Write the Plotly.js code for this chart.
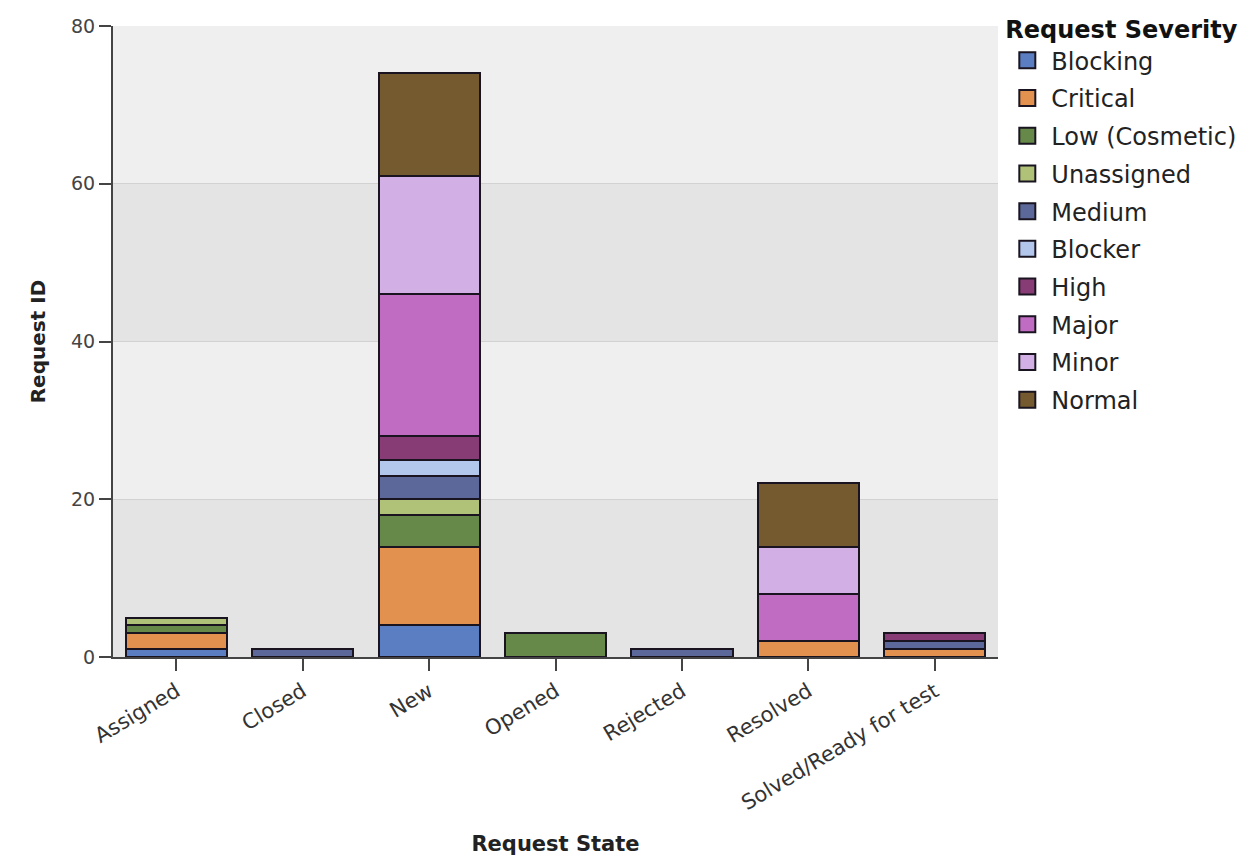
<!DOCTYPE html>
<html>
<head>
<meta charset="utf-8">
<script src="https://cdn.plot.ly/plotly-3.0.1.min.js"></script>
<style>html,body{margin:0;padding:0;background:#fff;}#chart{width:1250px;height:862px;}</style>
</head>
<body>
<div id="chart"></div>
<script>
const states = ["Assigned", "Closed", "New", "Opened", "Rejected", "Resolved", "Solved/Ready for test"];
const severities = ["Blocking", "Critical", "Low (Cosmetic)", "Unassigned", "Medium", "Blocker", "High", "Major", "Minor", "Normal"];
const blocking    = [1, 0, 4, 0, 0, 0, 0];
const critical    = [2, 0, 10, 0, 0, 2, 1];
const lowCosmetic = [1, 0, 4, 3, 0, 0, 0];
const unassigned  = [1, 0, 2, 0, 0, 0, 0];
const medium      = [0, 1, 3, 0, 1, 0, 1];
const blocker     = [0, 0, 2, 0, 0, 0, 0];
const high        = [0, 0, 3, 0, 0, 0, 1];
const major       = [0, 0, 18, 0, 0, 6, 0];
const minor       = [0, 0, 15, 0, 0, 6, 0];
const normal      = [0, 0, 13, 0, 0, 8, 0];
const seriesValues = [blocking, critical, lowCosmetic, unassigned, medium, blocker, high, major, minor, normal];
const colors = ["#5b7ec2", "#e2914e", "#668848", "#afc278", "#5c689a", "#b3c7ec", "#873c75", "#c06cc2", "#d2afe4", "#765a2f"];

const barTraces = severities.map((name, i) => ({
  type: "bar",
  name: name,
  x: states,
  y: seriesValues[i],
  legendgroup: "g" + i,
  showlegend: false,
  marker: {color: colors[i], line: {color: "#1a1420", width: 2}},
  hoverinfo: "x+y+name"
}));

// legend-only entries (larger square swatches), toggling with their bar series
const legendTraces = severities.map((name, i) => ({
  type: "scatter",
  mode: "markers",
  name: name,
  x: [null],
  y: [null],
  legendgroup: "g" + i,
  showlegend: true,
  marker: {symbol: "square", size: 16, color: colors[i], line: {color: "#1a1420", width: 2}},
  hoverinfo: "skip"
}));

const layout = {
  width: 1250, height: 862,
  margin: {l: 113, r: 252, t: 26, b: 205, autoexpand: false},
  paper_bgcolor: "#ffffff",
  plot_bgcolor: "#efefef",
  barmode: "stack",
  bargap: 0.2,
  font: {family: "DejaVu Sans, Liberation Sans, Arial, sans-serif", color: "#333"},
  xaxis: {
    type: "category",
    tickangle: -31,
    tickfont: {size: 21, color: "#333"},
    ticks: "outside", ticklen: 12, tickcolor: "#444", tickwidth: 2,
    showline: true, linecolor: "#444", linewidth: 2,
    showgrid: false,
    title: {text: "Request State", font: {size: 21, color: "#222", weight: "bold"}, standoff: 22}
  },
  yaxis: {
    range: [0, 80], dtick: 20,
    tickfont: {size: 19, color: "#444"},
    ticks: "outside", ticklen: 12, tickcolor: "#444", tickwidth: 2,
    showline: true, linecolor: "#444", linewidth: 2,
    gridcolor: "#d2d2d2", gridwidth: 1,
    zeroline: false,
    title: {text: "Request ID", font: {size: 20, color: "#222", weight: "bold"}, standoff: 20}
  },
  shapes: [
    {type: "rect", xref: "paper", yref: "y", x0: 0, x1: 1, y0: 0, y1: 20, fillcolor: "#e4e4e4", line: {width: 0}, layer: "below"},
    {type: "rect", xref: "paper", yref: "y", x0: 0, x1: 1, y0: 40, y1: 60, fillcolor: "#e4e4e4", line: {width: 0}, layer: "below"}
  ],
  legend: {
    x: 1.006, y: 1.03, xanchor: "left", yanchor: "top",
    traceorder: "grouped",
    tracegroupgap: 3.5,
    itemwidth: 38,
    itemsizing: "trace",
    font: {size: 24, color: "#222"},
    title: {text: "Request Severity", font: {size: 24, color: "#111", weight: "bold"}},
    bgcolor: "rgba(0,0,0,0)"
  },
  showlegend: true
};

Plotly.newPlot("chart", barTraces.concat(legendTraces), layout, {displayModeBar: false});
</script>
</body>
</html>
